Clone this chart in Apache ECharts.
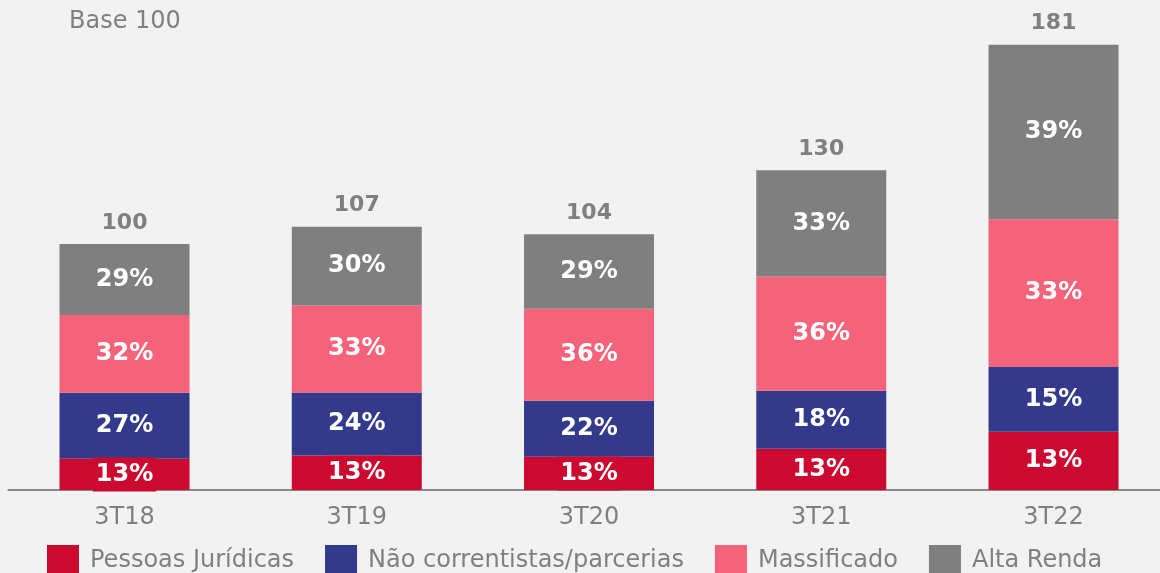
<!DOCTYPE html>
<html>
<head>
<meta charset="utf-8">
<style>
  html, body { margin: 0; padding: 0; background: #f2f2f2; }
  #chart { width: 1160px; height: 573px; }
</style>
<script src="https://cdn.jsdelivr.net/npm/echarts@6/dist/echarts.min.js"></script>
</head>
<body>
<div id="chart"></div>
<script>
  // dados (base 100)
  const categories = ['3T18', '3T19', '3T20', '3T21', '3T22']
  const totals = [100, 107, 104, 130, 181]

  const pjValues = [12.7, 14.0, 13.5, 16.8, 23.7]
  const naoCorrValues = [26.8, 25.6, 22.8, 23.5, 26.3]
  const massValues = [31.6, 35.4, 37.4, 46.5, 60.1]
  const altaValues = [28.9, 32.0, 30.3, 43.2, 70.9]

  const pjPct = ['13%', '13%', '13%', '13%', '13%']
  const naoCorrPct = ['27%', '24%', '22%', '18%', '15%']
  const massPct = ['32%', '33%', '36%', '36%', '33%']
  const altaPct = ['29%', '30%', '29%', '33%', '39%']

  const font = 'DejaVu Sans'

  function segment(name, values, pcts, color, extraLabel) {
    return {
      name: name,
      type: 'bar',
      stack: 'total',
      barWidth: 130,
      itemStyle: { color: color },
      label: Object.assign({
        show: true,
        position: 'inside',
        color: '#fff',
        fontFamily: font,
        fontWeight: 'bold',
        fontSize: 24,
        formatter: function (p) { return pcts[p.dataIndex] }
      }, extraLabel || {}),
      emphasis: { disabled: true },
      data: values
    }
  }

  const chart = echarts.init(document.getElementById('chart'))
  chart.setOption({
    backgroundColor: '#f2f2f2',
    animation: false,
    title: {
      text: 'Base 100',
      left: 64,
      top: 5,
      textStyle: { fontFamily: font, fontWeight: 'normal', fontSize: 24, color: '#808080' }
    },
    legend: {
      data: ['Pessoas Jurídicas', 'Não correntistas/parcerias', 'Massificado', 'Alta Renda'],
      left: 47,
      top: 545,
      padding: 0,
      itemWidth: 32,
      itemHeight: 32,
      itemGap: 31,
      icon: 'rect',
      textStyle: { fontFamily: font, fontSize: 24, color: '#808080', padding: [0, 0, 0, 6] }
    },
    grid: {
      left: 8.4,
      width: 1161.25,
      top: 22.6,
      bottom: 83,
      outerBoundsMode: 'none',
      containLabel: false
    },
    xAxis: {
      type: 'category',
      data: categories,
      axisTick: { show: false },
      axisLine: { lineStyle: { color: '#888', width: 2 } },
      axisLabel: { margin: 16, fontFamily: font, fontSize: 24, color: '#808080' }
    },
    yAxis: {
      type: 'value',
      min: 0,
      max: 190,
      show: false,
      splitLine: { show: false }
    },
    series: [
      segment('Pessoas Jurídicas', pjValues, pjPct, '#cc0a2f',
        { backgroundColor: '#cc0a2f', padding: [5, 3, 5, 3] }),
      segment('Não correntistas/parcerias', naoCorrValues, naoCorrPct, '#333a8c'),
      segment('Massificado', massValues, massPct, '#f4637a'),
      segment('Alta Renda', altaValues, altaPct, '#7f7f7f'),
      {
        name: 'Total',
        type: 'bar',
        barWidth: 130,
        barGap: '-100%',
        z: 1,
        itemStyle: { color: 'rgba(0,0,0,0)' },
        label: {
          show: true,
          position: 'top',
          distance: 10,
          fontFamily: font,
          fontWeight: 'bold',
          fontSize: 22,
          color: '#7f7f7f'
        },
        emphasis: { disabled: true },
        data: totals
      }
    ]
  })
</script>
</body>
</html>
